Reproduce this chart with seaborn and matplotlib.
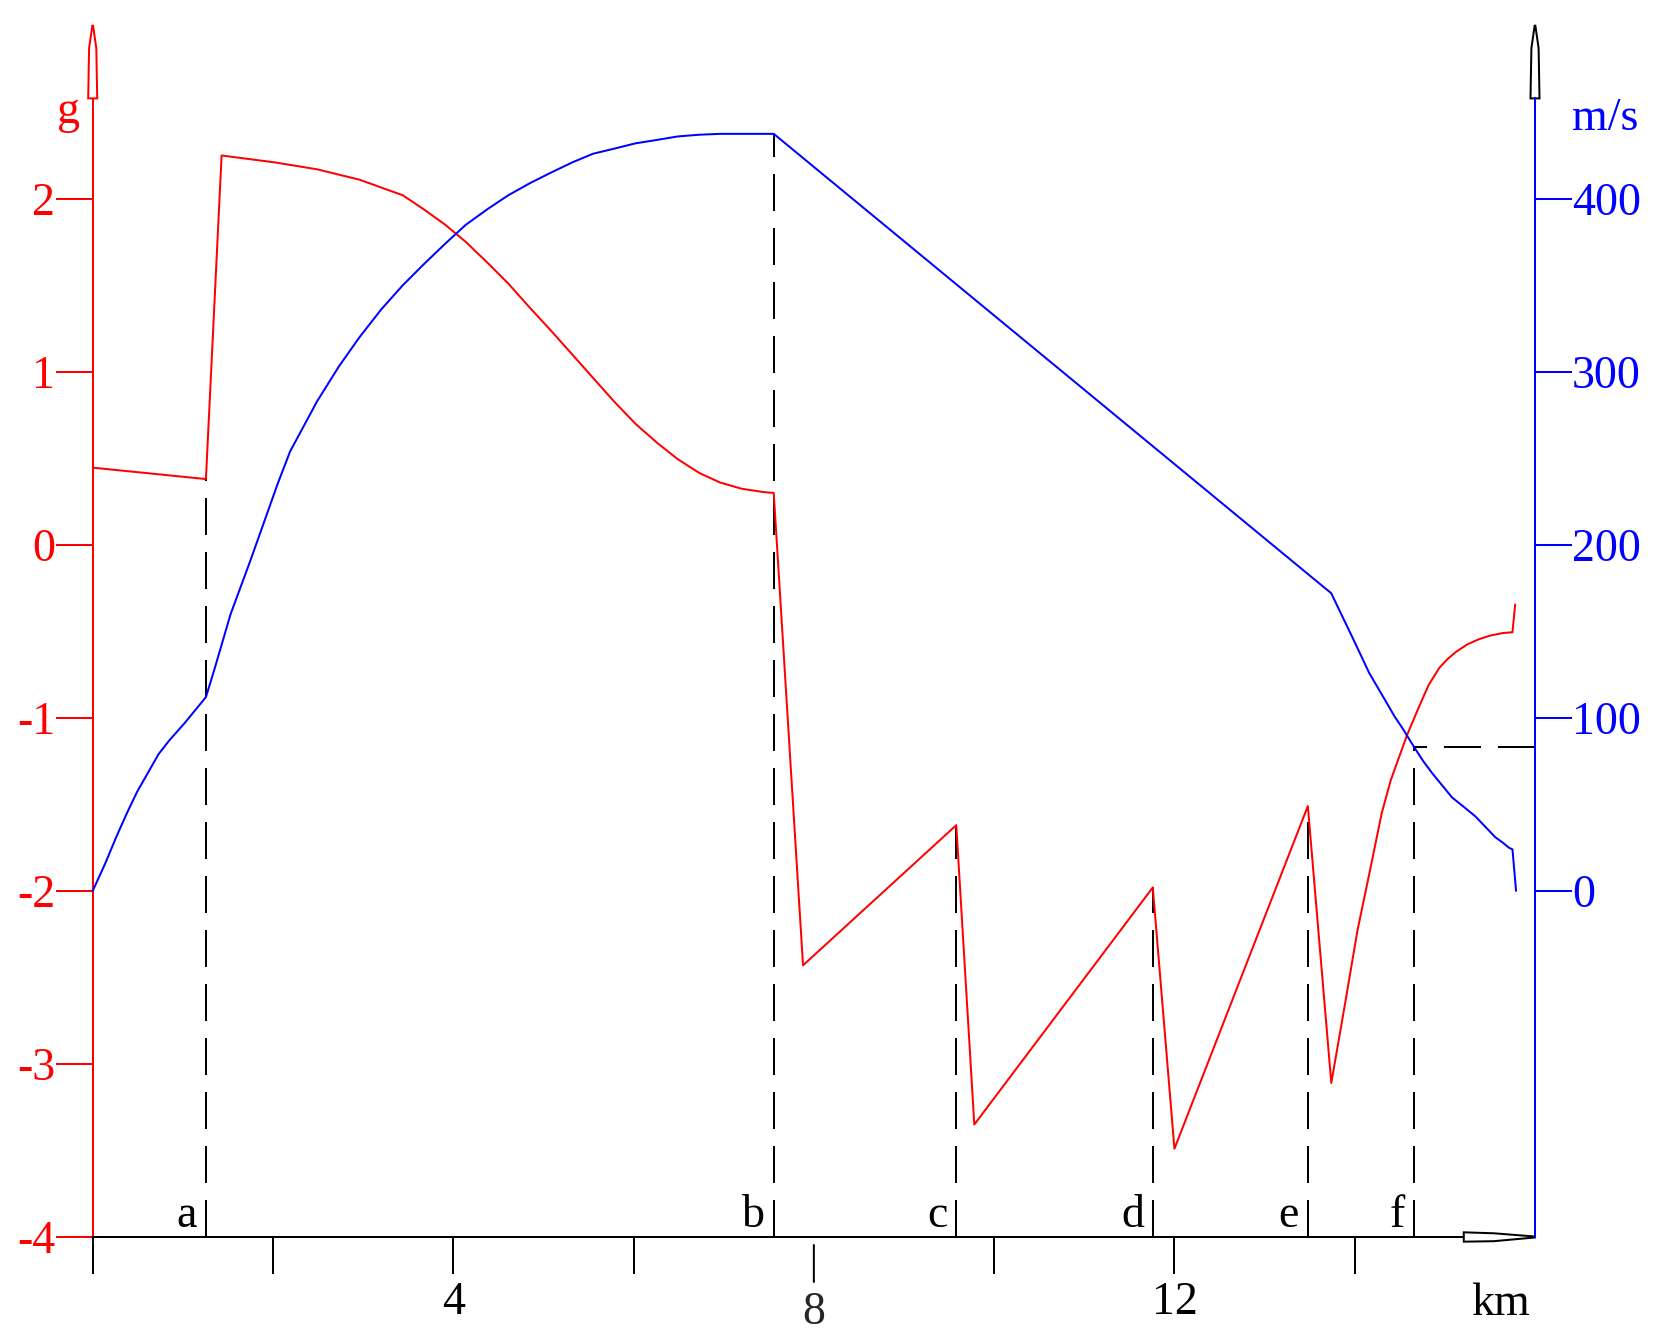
import numpy as np
import pandas as pd
import matplotlib
matplotlib.use("Agg")
import matplotlib.pyplot as plt
from matplotlib.patches import Polygon
import matplotlib.transforms as mtransforms
import seaborn as sns

# ---------------- data ----------------
red_km = [0.0, 1.256, 1.43, 2.02, 2.49, 2.96, 3.44, 3.67, 3.91, 4.14, 4.38, 4.61, 4.85,
          5.08, 5.32, 5.55, 5.79, 6.02, 6.26, 6.49, 6.73, 6.96, 7.2, 7.44, 7.555,
          7.88, 9.58, 9.78, 11.76, 12.0, 13.48, 13.74, 13.9, 14.03, 14.17, 14.30, 14.40,
          14.49, 14.58, 14.71, 14.82, 14.94, 15.03, 15.12, 15.25, 15.38, 15.5, 15.64,
          15.75, 15.78]
red_g = [0.446, 0.38, 2.25, 2.21, 2.17, 2.11, 2.02, 1.94, 1.85, 1.75, 1.63, 1.51, 1.37,
         1.24, 1.10, 0.965, 0.825, 0.70, 0.59, 0.495, 0.415, 0.36, 0.324, 0.305, 0.30,
         -2.43, -1.62, -3.35, -1.98, -3.49, -1.51, -3.11, -2.63, -2.23, -1.88, -1.55, -1.36,
         -1.23, -1.10, -0.94, -0.81, -0.71, -0.66, -0.62, -0.575, -0.545, -0.525, -0.51,
         -0.505, -0.345]

blue_km = [0.0, 0.14, 0.26, 0.38, 0.49, 0.61, 0.73, 0.85, 1.02, 1.256, 1.35, 1.53, 1.75,
           2.05, 2.19, 2.49, 2.73, 2.96, 3.2, 3.44, 3.67, 3.91, 4.14, 4.38, 4.61, 4.85,
           5.08, 5.32, 5.55, 5.79, 6.02, 6.26, 6.49, 6.73, 6.96, 7.555,
           13.74, 13.85, 13.97, 14.07, 14.16, 14.25, 14.34, 14.44, 14.53, 14.66, 14.76,
           14.86, 14.97, 15.08, 15.2, 15.34, 15.45, 15.56, 15.64, 15.71, 15.75, 15.79]
blue_ms = [0, 16, 31, 45, 57, 68, 79, 87, 97, 112, 128, 160, 191,
           235, 254, 283, 303, 320, 336, 350, 362, 374, 385, 394, 402, 409,
           415, 421, 426, 429, 432, 434, 436, 437, 437.5, 437.5,
           172, 160, 147, 136, 126, 118, 110, 101, 94, 83, 75,
           68, 61, 54, 49, 43, 37, 31, 28, 25, 24, 0]

event_labels = ["a", "b", "c", "d", "e", "f"]
event_km = [1.256, 7.555, 9.58, 11.76, 13.48, 14.66]
event_top_g = [0.38, 2.37, -1.62, -1.98, -1.51, -1.17]
f_speed_ms = 83

g_ticks = [-4, -3, -2, -1, 0, 1, 2]
ms_ticks = [0, 100, 200, 300, 400]
km_ticks = [0, 2, 4, 6, 8, 10, 12, 14]
km_labels = {4: "4", 8: "8", 12: "12"}

RED = "#ff0000"
BLUE = "#0000ff"
LW = 1.44
FS = 33

# ---------------- style ----------------
sns.set_style("white")
plt.rcParams["font.family"] = ["Liberation Serif", "DejaVu Serif"]

fig = plt.figure(figsize=(16.6, 13.39), dpi=100)
ax = fig.add_axes([92.7 / 1660, (1339 - 1237) / 1339, 1442.3 / 1660, (1237 - 25.7) / 1339])
ax.set_xlim(0, 16)
ax.set_ylim(-4, 3)
ax.patch.set_alpha(0)

red_df = pd.DataFrame({"km": red_km, "g": red_g})
sns.lineplot(data=red_df, x="km", y="g", ax=ax, color=RED, lw=LW, sort=False,
             estimator=None, clip_on=False)

ax2 = ax.twinx()
ax2.set_ylim(-200, 500)
blue_df = pd.DataFrame({"km": blue_km, "ms": blue_ms})
sns.lineplot(data=blue_df, x="km", y="ms", ax=ax2, color=BLUE, lw=LW, sort=False,
             estimator=None, clip_on=False)

# dashed event lines
dash = (0, (18.5, 8.5))
for k, top in zip(event_km, event_top_g):
    ax.plot([k, k], [-4, top], color="black", lw=LW, linestyle=dash, zorder=1)
f_idx = event_labels.index("f")
ax2.plot([16, event_km[f_idx]], [f_speed_ms, f_speed_ms], color="black", lw=LW,
         linestyle=dash, zorder=1)

# event letters
for lab, k in zip(event_labels, event_km):
    ax.annotate(lab, xy=(k, -4), xytext=(-6.5, 7), textcoords="offset points",
                ha="right", va="baseline", fontsize=FS, color="black")

# ---------------- axes styling ----------------
tick_len = 26.6
for a in (ax, ax2):
    a.set_xlabel("")
    a.set_ylabel("")
    a.spines["top"].set_visible(False)
    a.grid(False)

arrow_base_g = 2.58
ax.spines["right"].set_visible(False)
ax.spines["left"].set_color(RED)
ax.spines["left"].set_linewidth(LW)
ax.spines["left"].set_bounds(-4, arrow_base_g)
ax.spines["bottom"].set_color("black")
ax.spines["bottom"].set_linewidth(LW)
ax.spines["bottom"].set_bounds(0, 15.21)
ax.set_yticks(g_ticks)
ax.set_yticklabels([str(t) for t in g_ticks])
ax.tick_params(axis="y", left=True, right=False, colors=RED, direction="out",
               length=tick_len, width=LW, labelsize=FS, pad=0.5)
reg_ticks = [t for t in km_ticks if t != 8]
ax.set_xticks(reg_ticks)
ax.set_xticklabels([km_labels.get(t, "") for t in reg_ticks])
ax.tick_params(axis="x", bottom=True, top=False, colors="black", direction="out",
               length=tick_len, width=LW, labelsize=FS, pad=5.5)

# the 8 km tick and label sit slightly lower in the reference
t_top = mtransforms.offset_copy(ax.transData, fig=fig, y=-5.8, units="points")
t_bot = mtransforms.offset_copy(ax.transData, fig=fig, y=-5.8 - tick_len, units="points")
ax.annotate("", xy=(8, -4), xycoords=t_bot, xytext=(8, -4), textcoords=t_top,
            arrowprops=dict(arrowstyle="-", lw=LW, color="black", shrinkA=0, shrinkB=0),
            annotation_clip=False)
ax.annotate(km_labels[8], xy=(8, -4), xytext=(0, -5.8 - tick_len - 5.5 - 24.5),
            textcoords="offset points", ha="center", va="baseline", fontsize=FS,
            annotation_clip=False)

ax2.spines["left"].set_visible(False)
ax2.spines["bottom"].set_visible(False)
ax2.spines["right"].set_color(BLUE)
ax2.spines["right"].set_linewidth(LW)
ax2.spines["right"].set_bounds(-200, (arrow_base_g + 2) * 100)
ax2.set_yticks(ms_ticks)
ax2.set_yticklabels([str(t) for t in ms_ticks])
ax2.tick_params(axis="y", right=True, left=False, colors=BLUE, direction="out",
                length=tick_len, width=LW, labelsize=FS, pad=0)
ax2.tick_params(axis="x", bottom=False, labelbottom=False)

# axis arrowheads (outlined)
hw = 0.05
left_arrow = Polygon([(-hw, arrow_base_g), (hw, arrow_base_g), (0.8 * hw, 2.87),
                      (0.08 * hw, 3.0), (-0.08 * hw, 3.0), (-0.8 * hw, 2.87)],
                     closed=True, facecolor="white", edgecolor=RED, lw=LW,
                     clip_on=False, zorder=5)
ax.add_patch(left_arrow)
right_arrow = Polygon([(16 - hw, arrow_base_g), (16 + hw, arrow_base_g), (16 + 0.8 * hw, 2.87),
                       (16 + 0.08 * hw, 3.0), (16 - 0.08 * hw, 3.0), (16 - 0.8 * hw, 2.87)],
                      closed=True, facecolor="white", edgecolor="black", lw=LW,
                      clip_on=False, zorder=5)
ax.add_patch(right_arrow)
vh = 0.027
x_arrow = Polygon([(15.21, -4 - vh), (15.21, -4 + vh), (15.54, -4 + 0.8 * vh),
                   (16.0, -4 + 0.1 * vh), (16.0, -4 - 0.1 * vh), (15.54, -4 - 0.9 * vh)],
                  closed=True, facecolor="white", edgecolor="black", lw=LW,
                  clip_on=False, zorder=5)
ax.add_patch(x_arrow)

# axis titles
ax.text(-0.27, 2.436, "g", color=RED, fontsize=FS, ha="center", va="baseline")
ax.text(16.78, 2.40, "m/s", color=BLUE, fontsize=FS, ha="center", va="baseline")
ax.text(15.62, -4.45, "km", color="black", fontsize=FS, ha="center", va="baseline")

fig.savefig("out.png", dpi=100, facecolor="white")
